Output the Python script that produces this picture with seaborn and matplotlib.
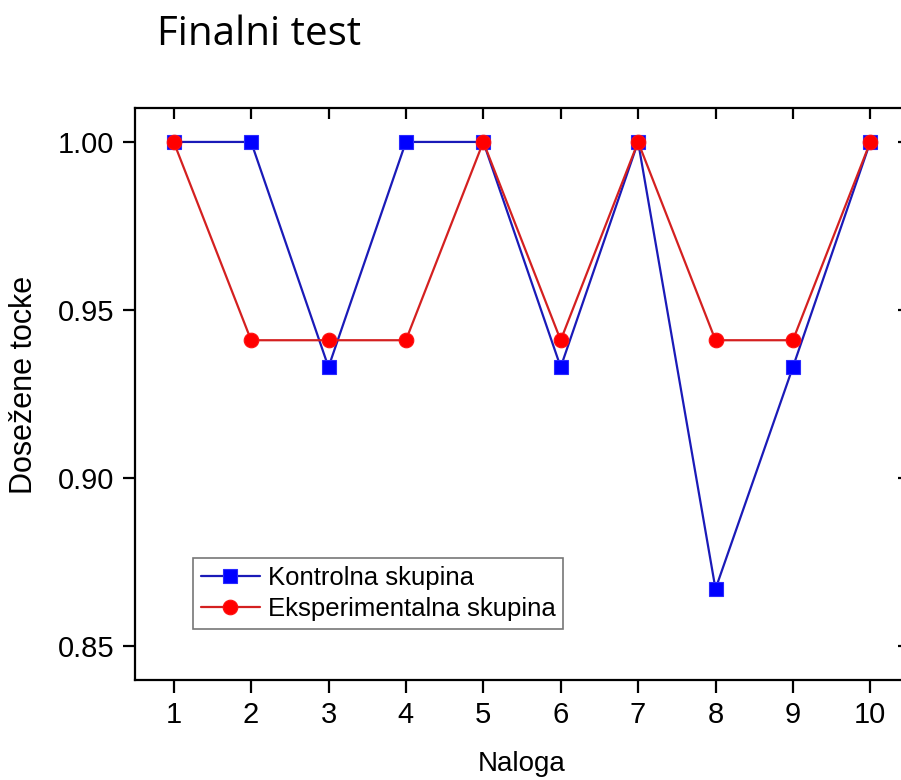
import seaborn as sns
import matplotlib.pyplot as plt
import pandas as pd

naloga = [1, 2, 3, 4, 5, 6, 7, 8, 9, 10]
kontrolna = [1.0, 1.0, 0.933, 1.0, 1.0, 0.933, 1.0, 0.867, 0.933, 1.0]
eksperimentalna = [1.0, 0.941, 0.941, 0.941, 1.0, 0.941, 1.0, 0.941, 0.941, 1.0]
yticks = [0.85, 0.90, 0.95, 1.00]

sns.set_style("ticks")
plt.rcParams['font.family'] = ['Liberation Sans', 'DejaVu Sans']
plt.rcParams['text.color'] = 'black'
plt.rcParams['axes.labelcolor'] = 'black'

df_k = pd.DataFrame({"Naloga": naloga, "Tocke": kontrolna})
df_e = pd.DataFrame({"Naloga": naloga, "Tocke": eksperimentalna})

fig = plt.figure(figsize=(9.01, 7.80), dpi=100)
ax = fig.add_axes([135 / 901, 1 - 680 / 780, 774 / 901, 572 / 780])

sns.lineplot(data=df_k, x="Naloga", y="Tocke", ax=ax, color="#1a1ab8",
             marker="s", markersize=10.5, markerfacecolor="#0000ff",
             markeredgecolor="#2a2aff", markeredgewidth=0.8, linewidth=1.6,
             label="Kontrolna skupina")
sns.lineplot(data=df_e, x="Naloga", y="Tocke", ax=ax, color="#d42020",
             marker="o", markersize=10.5, markerfacecolor="#ff0000",
             markeredgecolor="#ff1010", markeredgewidth=0.8, linewidth=1.6,
             label="Eksperimentalna skupina")

ax.set_xlim(0.5, 10.5)
ax.set_ylim(0.8399, 1.0101)
ax.set_xticks(naloga)
ax.set_yticks(yticks)
ax.set_yticklabels([f"{v:.2f}" for v in yticks])

for s in ax.spines.values():
    s.set_linewidth(1.6)
    s.set_color("black")

ax.tick_params(axis="both", which="major", direction="out", length=9, width=1.6,
               labelsize=21, pad=6, colors="black")
ax.tick_params(top=True, right=True, which="major")
# ticks on top and right point inward
for t in ax.xaxis.get_major_ticks():
    t.tick2line.set_marker(3)
    t.tick2line.set_markersize(8)
for t in ax.yaxis.get_major_ticks():
    t.tick2line.set_marker(0)
    t.tick2line.set_markersize(8)

ax.set_xlabel("Naloga", fontsize=20, labelpad=16)
ax.set_ylabel("Dosežene tocke", fontsize=22)
ax.yaxis.set_label_coords(-0.124, 0.516)

leg = ax.legend(loc="lower left", bbox_to_anchor=(58 / 774, 51 / 572),
                borderaxespad=0, fontsize=18.5, frameon=True, fancybox=False,
                handlelength=2.3, handletextpad=0.3, labelspacing=0.3,
                borderpad=0.3)
leg.get_frame().set_edgecolor("#555555")
leg.get_frame().set_linewidth(1.2)

fig.text(157 / 901, 1 - 45 / 780, "Finalni test", fontsize=29, color="black",
         family=["Open Sans", "DejaVu Sans"], ha="left", va="baseline")

fig.savefig("out.png", dpi=100)
